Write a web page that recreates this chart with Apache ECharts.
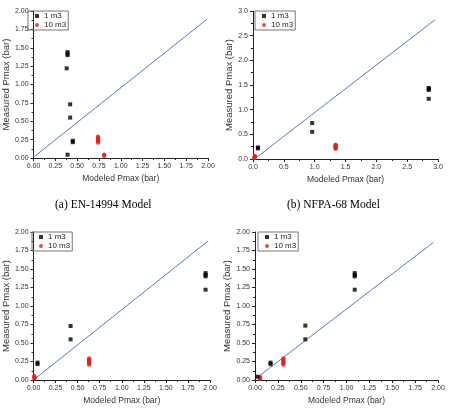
<!DOCTYPE html>
<html>
<head>
<meta charset="utf-8">
<script src="https://cdn.jsdelivr.net/npm/echarts@6/dist/echarts.min.js"></script>
<style>
  html, body { margin: 0; padding: 0; background: #fff; }
  #chart { width: 449px; height: 414px; }
</style>
</head>
<body>
<div id="chart"></div>
<script>
// 数据 (a) EN-14994 Model
const enSmall = [[0.39, 1.44], [0.39, 1.42], [0.39, 1.40], [0.38, 1.22], [0.42, 0.73], [0.42, 0.55], [0.45, 0.235], [0.45, 0.215], [0.39, 0.045]];
const enLarge = [[0.74, 0.29], [0.74, 0.27], [0.74, 0.25], [0.74, 0.23], [0.74, 0.21], [0.81, 0.045], [0.81, 0.03]];
const enFit = [[0.01, 0.02], [1.99, 1.89]];

// (b) NFPA-68 Model
const nfpaSmall = [[0.08, 0.235], [0.08, 0.215], [0.96, 0.73], [0.96, 0.55], [2.85, 1.44], [2.85, 1.42], [2.85, 1.40], [2.85, 1.22]];
const nfpaLarge = [[0.03, 0.06], [0.03, 0.04], [0.02, 0.02], [1.34, 0.29], [1.34, 0.27], [1.34, 0.25], [1.34, 0.23], [1.34, 0.21]];
const nfpaFit = [[0, 0.01], [0.1, 0.07], [0.5, 0.46], [2.95, 2.82]];

// 下排左
const lowLeftSmall = [[0.045, 0.235], [0.045, 0.215], [0.42, 0.73], [0.42, 0.55], [1.95, 1.445], [1.95, 1.42], [1.95, 1.40], [1.95, 1.22]];
const lowLeftLarge = [[0.01, 0.05], [0.01, 0.035], [0.01, 0.02], [0.63, 0.29], [0.63, 0.27], [0.63, 0.25], [0.63, 0.23], [0.63, 0.21]];
const lowLeftFit = [[0.01, 0.01], [1.98, 1.88]];

// 下排右
const lowRightSmall = [[0.025, 0.045], [0.17, 0.235], [0.17, 0.215], [0.55, 0.735], [0.55, 0.55], [1.09, 1.445], [1.09, 1.42], [1.09, 1.40], [1.09, 1.22]];
const lowRightLarge = [[0.055, 0.04], [0.055, 0.03], [0.055, 0.02], [0.31, 0.29], [0.31, 0.27], [0.31, 0.25], [0.31, 0.23], [0.31, 0.21]];
const lowRightFit = [[0.02, 0.03], [1.95, 1.86]];

const legendNames = ['1 m3', '10 m3'];
const captions = ['(a) EN-14994 Model', '(b) NFPA-68 Model'];

const panels = [
  { small: enSmall, large: enLarge, fit: enFit, max: 2, step: 0.25, digits: 2,
    grid: { left: 27, top: 11, width: 181, height: 147 }, legend: { left: 28, top: 11 }, yGap: 17 },
  { small: nfpaSmall, large: nfpaLarge, fit: nfpaFit, max: 3, step: 0.5, digits: 1,
    grid: { left: 253, top: 11, width: 185, height: 148 }, legend: { left: 255, top: 11 }, yGap: 13 },
  { small: lowLeftSmall, large: lowLeftLarge, fit: lowLeftFit, max: 2, step: 0.25, digits: 2,
    grid: { left: 27, top: 232, width: 183, height: 148 }, legend: { left: 32, top: 232 }, yGap: 17 },
  { small: lowRightSmall, large: lowRightLarge, fit: lowRightFit, max: 2, step: 0.25, digits: 2,
    grid: { left: 255, top: 232, width: 183, height: 148 }, legend: { left: 258, top: 232 }, yGap: 17 },
];

const font = 'Liberation Sans, Arial, sans-serif';

function axis(p, i, name, isY) {
  return {
    type: 'value',
    gridIndex: i,
    min: 0,
    max: p.max,
    interval: p.step,
    name: name,
    nameLocation: 'middle',
    nameGap: isY ? p.yGap : 16,
    nameTextStyle: { color: '#333', fontSize: isY ? 9.5 : 8.5, fontFamily: font },
    axisLine: { show: true, lineStyle: { color: '#222', width: 1 } },
    axisTick: { show: true, inside: false, length: 3, lineStyle: { color: '#222' } },
    minorTick: { show: true, splitNumber: 2, length: 2, lineStyle: { color: '#222' } },
    axisLabel: {
      color: '#333', fontSize: 7, fontFamily: font, margin: 5,
      formatter: v => v.toFixed(p.digits)
    },
    splitLine: { show: false },
  };
}

let option = {
  backgroundColor: '#fff',
  animation: false,
  grid: [],
  xAxis: [],
  yAxis: [],
  legend: [],
  series: [],
  graphic: captions.map((t, k) => ({
    type: 'text',
    left: k === 0 ? 55 : 287,
    top: 199,
    style: { text: t, fontSize: 11.5, fontFamily: 'Liberation Serif, Times New Roman, serif', fill: '#000' }
  })),
};

panels.forEach((p, i) => {
  option.grid.push(p.grid);
  option.xAxis.push(axis(p, i, 'Modeled Pmax (bar)', false));
  option.yAxis.push(axis(p, i, 'Measured Pmax (bar)', true));
  option.legend.push({
    data: legendNames,
    orient: 'vertical',
    left: p.legend.left,
    top: p.legend.top,
    itemWidth: 4,
    itemHeight: 4,
    itemGap: 1,
    padding: [1, 2, 1, 7],
    borderColor: '#777',
    borderWidth: 1,
    textStyle: { fontSize: 8, fontFamily: font, color: '#222' },
  });
  option.series.push({
    name: 'fit' + i, type: 'line', xAxisIndex: i, yAxisIndex: i,
    data: p.fit, showSymbol: false, smooth: false,
    lineStyle: { color: '#4f7fb8', width: 1 }, z: 1,
  });
  option.series.push({
    name: legendNames[0], type: 'scatter', xAxisIndex: i, yAxisIndex: i,
    data: p.small, symbol: 'rect', symbolSize: 4,
    itemStyle: { color: '#000' }, z: 3,
  });
  option.series.push({
    name: legendNames[1], type: 'scatter', xAxisIndex: i, yAxisIndex: i,
    data: p.large, symbol: 'circle', symbolSize: 4.5,
    itemStyle: { color: '#e0201c' }, z: 2,
  });
});

const chart = echarts.init(document.getElementById('chart'));
chart.setOption(option);
window.onresize = () => chart.resize();
</script>
</body>
</html>
